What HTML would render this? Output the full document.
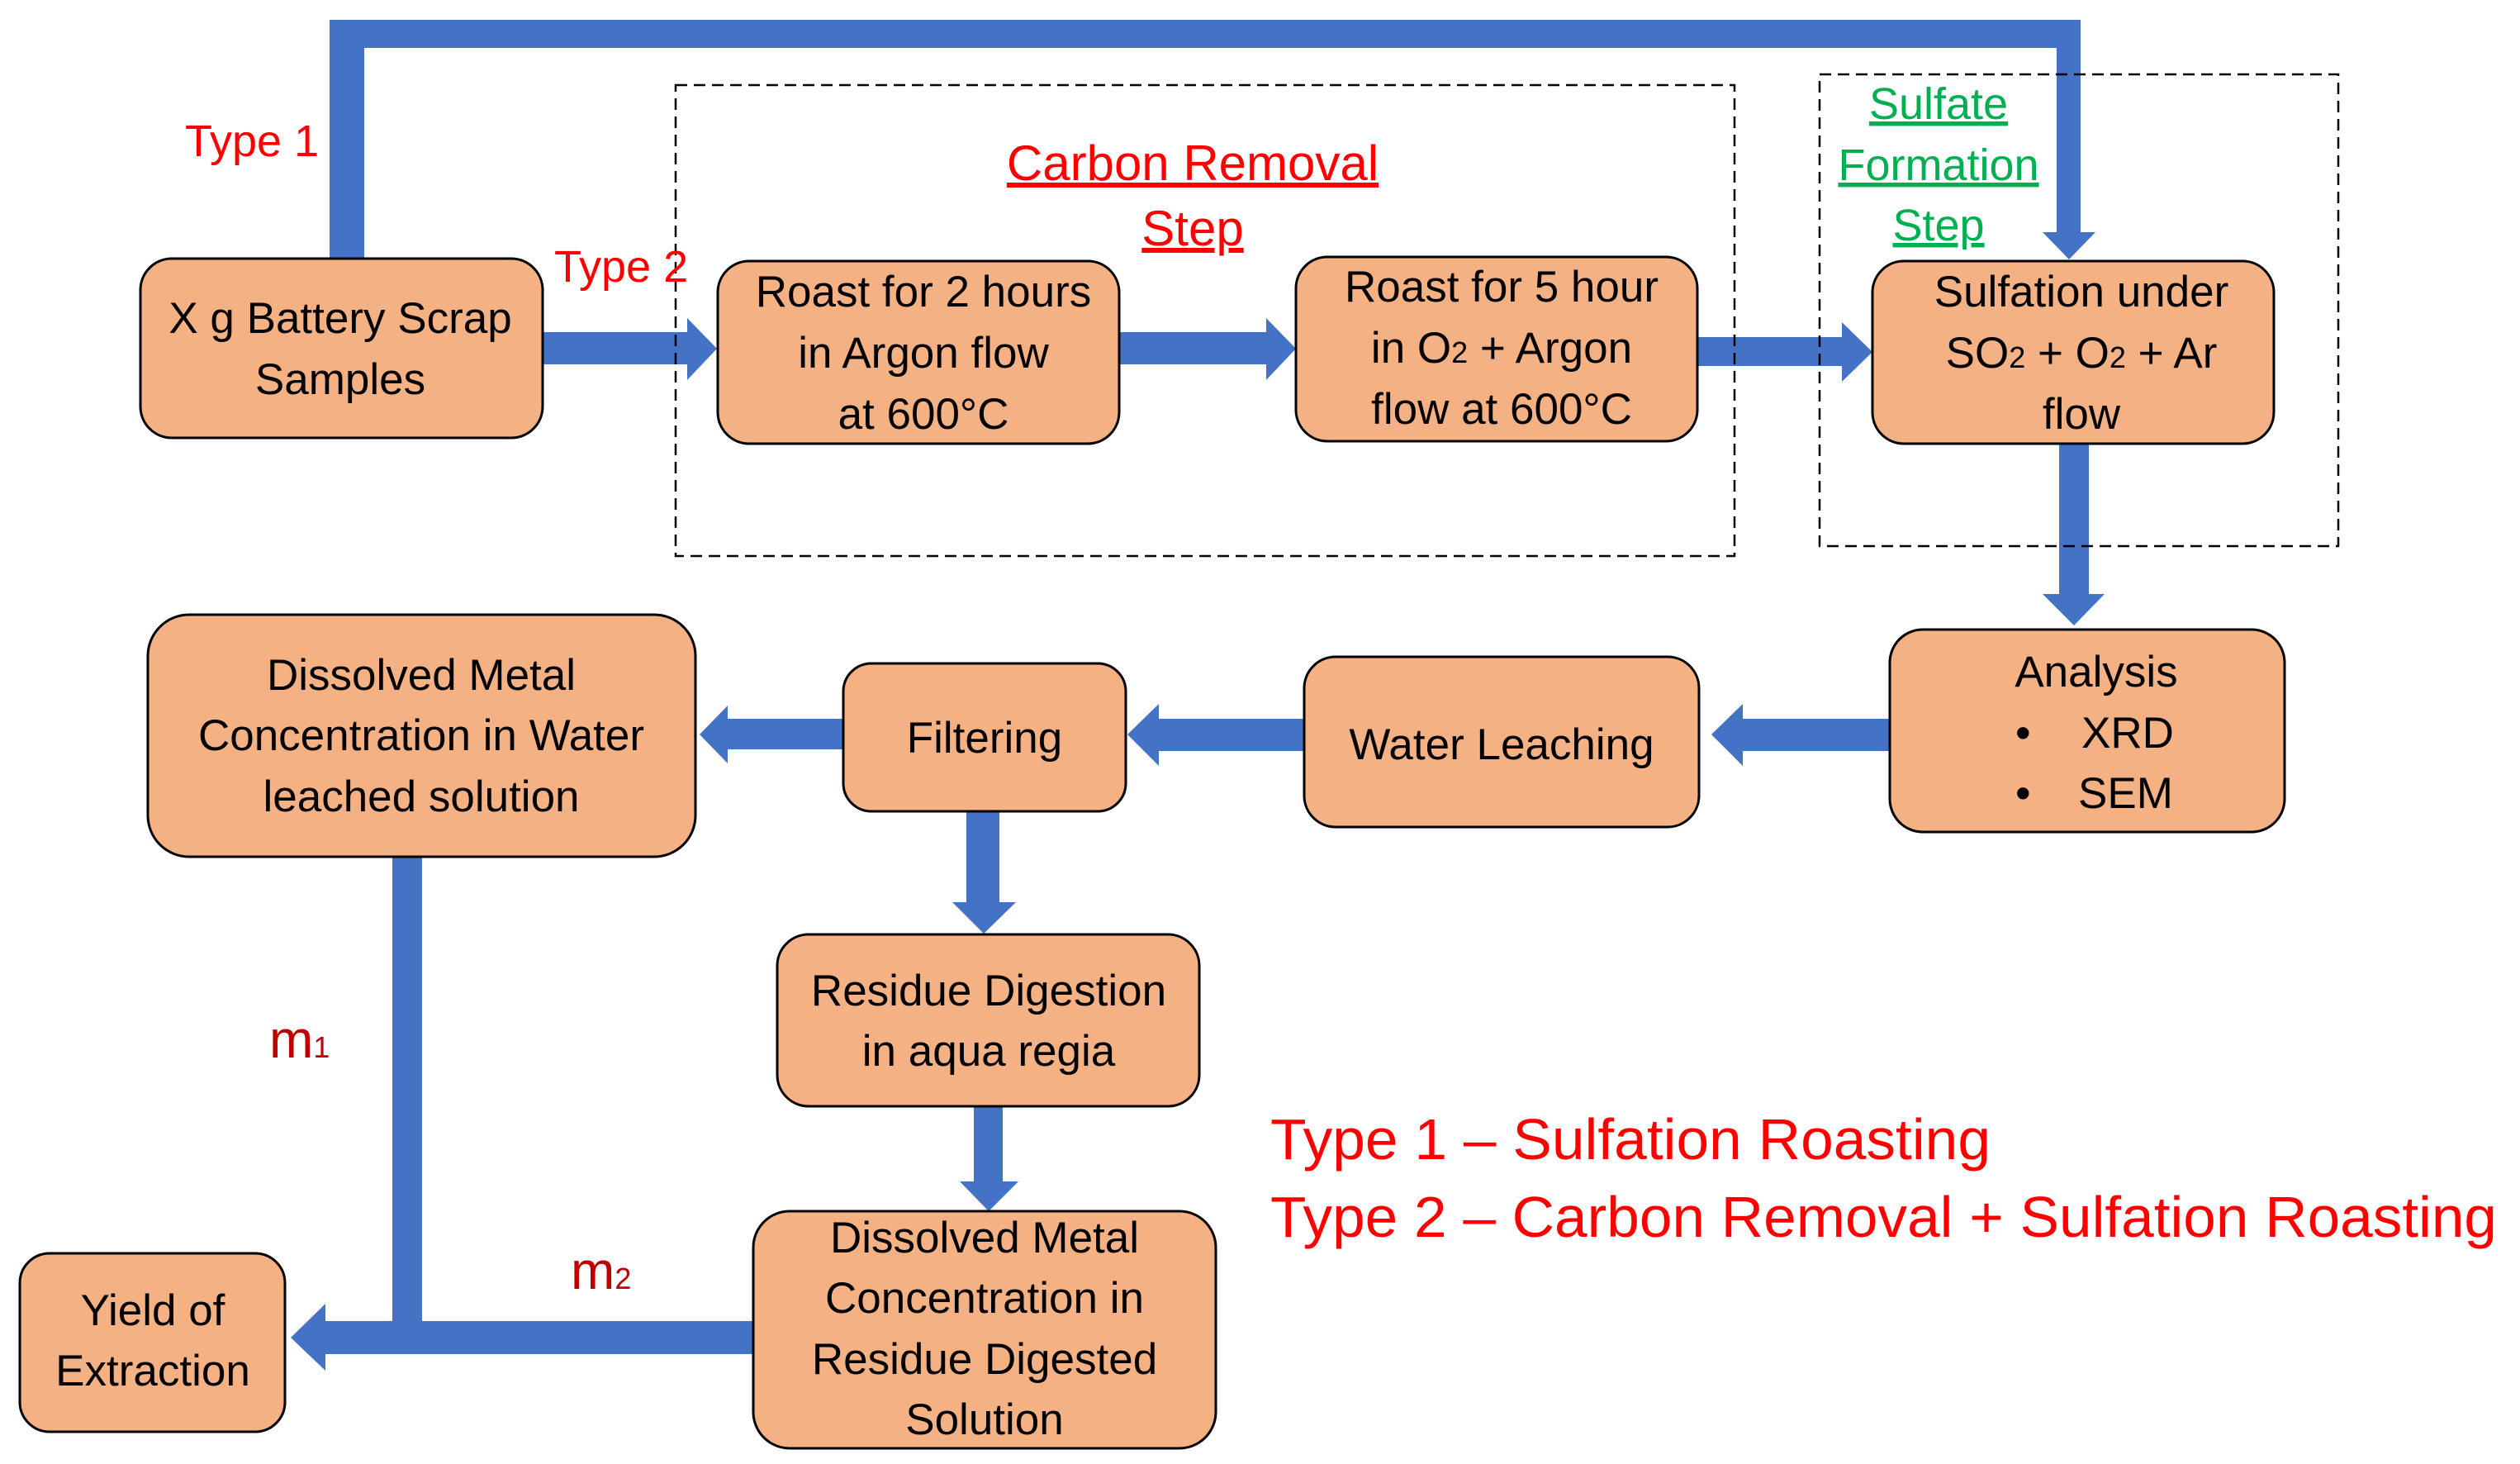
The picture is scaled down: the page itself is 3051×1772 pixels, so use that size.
<!DOCTYPE html>
<html><head><meta charset="utf-8"><style>
html,body{margin:0;padding:0;background:#fff;}
svg{display:block;}
text{font-family:"Liberation Sans",sans-serif;}
</style></head><body>
<svg width="3051" height="1772" viewBox="0 0 3051 1772" xmlns="http://www.w3.org/2000/svg">
<g fill="#4472C4">
  <rect x="399" y="24" width="42" height="290"/>
  <rect x="399" y="24" width="2120" height="34"/>
  <rect x="2490" y="24" width="29" height="258"/>
  <polygon points="2473,281 2537,281 2505,314"/>
  <rect x="657" y="402" width="177" height="39"/>
  <polygon points="832,385 868,422 832,460"/>
  <rect x="1355" y="402" width="180" height="39"/>
  <polygon points="1533,385 1569,422 1533,460"/>
  <rect x="2055" y="408" width="177" height="35"/>
  <polygon points="2230,390 2267,426 2230,462"/>
  <rect x="2493" y="537" width="36" height="184"/>
  <polygon points="2473,719 2548,719 2511,757"/>
  <rect x="2108" y="870" width="182" height="39"/>
  <polygon points="2110,852 2072,889 2110,927"/>
  <rect x="1400" y="870" width="181" height="39"/>
  <polygon points="1403,852 1365,889 1403,927"/>
  <rect x="879" y="870" width="144" height="37"/>
  <polygon points="881,854 847,889 881,924"/>
  <rect x="1170" y="982" width="40" height="112"/>
  <polygon points="1153,1092 1230,1092 1191,1130"/>
  <rect x="1179" y="1339" width="35" height="93"/>
  <polygon points="1162,1430 1233,1430 1197,1466"/>
  <rect x="475" y="1037" width="36" height="602"/>
  <rect x="392" y="1599" width="522" height="40"/>
  <polygon points="394,1578 352,1619 394,1659"/>
</g>
<rect x="818" y="103" width="1282" height="570" fill="none" stroke="#000" stroke-width="2.5" stroke-dasharray="14,8"/>
<rect x="2203" y="90" width="628" height="571" fill="none" stroke="#000" stroke-width="2.5" stroke-dasharray="14,8"/>
<g fill="#F4B183" stroke="#000" stroke-width="3">
  <rect x="170" y="313" width="487" height="217" rx="38"/>
  <rect x="869" y="316" width="486" height="221" rx="38"/>
  <rect x="1569" y="311" width="486" height="223" rx="38"/>
  <rect x="2267" y="316" width="486" height="221" rx="38"/>
  <rect x="2288" y="762" width="478" height="245" rx="40"/>
  <rect x="1579" y="795" width="478" height="206" rx="38"/>
  <rect x="1021" y="803" width="342" height="179" rx="34"/>
  <rect x="179" y="744" width="663" height="293" rx="50"/>
  <rect x="941" y="1131" width="511" height="208" rx="38"/>
  <rect x="912" y="1466" width="560" height="287" rx="44"/>
  <rect x="24" y="1517" width="321" height="216" rx="36"/>
</g>
<g font-size="53" fill="#000" text-anchor="middle">
  <text x="412" y="403">X g Battery Scrap</text>
  <text x="412" y="477">Samples</text>
  <text x="1118" y="371">Roast for 2 hours</text>
  <text x="1118" y="445">in Argon flow</text>
  <text x="1118" y="519">at 600°C</text>
  <text x="1818" y="365">Roast for 5 hour</text>
  <text x="1818" y="439">in O<tspan font-size="36">2</tspan> + Argon</text>
  <text x="1818" y="513">flow at 600°C</text>
  <text x="2520" y="371">Sulfation under</text>
  <text x="2520" y="445">SO<tspan font-size="36">2</tspan> + O<tspan font-size="36">2</tspan> + Ar</text>
  <text x="2520" y="519">flow</text>
  <text x="2538" y="831">Analysis</text>
  <text x="1818" y="919">Water Leaching</text>
  <text x="1192" y="911">Filtering</text>
  <text x="510" y="835">Dissolved Metal</text>
  <text x="510" y="908">Concentration in Water</text>
  <text x="510" y="982">leached solution</text>
  <text x="1197" y="1217">Residue Digestion</text>
  <text x="1197" y="1290">in aqua regia</text>
  <text x="1192" y="1516">Dissolved Metal</text>
  <text x="1192" y="1589">Concentration in</text>
  <text x="1192" y="1663">Residue Digested</text>
  <text x="1192" y="1736">Solution</text>
  <text x="185" y="1604">Yield of</text>
  <text x="185" y="1677">Extraction</text>
</g>
<g font-size="53" fill="#000">
  <text x="2440" y="905">•</text>
  <text x="2520" y="905">XRD</text>
  <text x="2440" y="978">•</text>
  <text x="2516" y="978">SEM</text>
</g>
<g fill="#FF0000" font-size="54">
  <text x="224" y="189">Type 1</text>
  <text x="671" y="341">Type 2</text>
  <text x="1444" y="218" font-size="60" text-anchor="middle" text-decoration="underline">Carbon Removal</text>
  <text x="1444" y="297" font-size="60" text-anchor="middle" text-decoration="underline">Step</text>
  <text x="1538" y="1403" font-size="70" textLength="872" lengthAdjust="spacingAndGlyphs">Type 1 – Sulfation Roasting</text>
  <text x="1538" y="1497" font-size="70" textLength="1485" lengthAdjust="spacingAndGlyphs">Type 2 – Carbon Removal + Sulfation Roasting</text>
</g>
<g fill="#00B050" font-size="54" text-anchor="middle" text-decoration="underline">
  <text x="2359" y="144" dx="-12">Sulfate</text>
  <text x="2359" y="218" dx="-12">Formation</text>
  <text x="2359" y="291" dx="-12">Step</text>
</g>
<g fill="#C00000">
  <text x="326" y="1280" font-size="64">m<tspan font-size="36">1</tspan></text>
  <text x="691" y="1560" font-size="64">m<tspan font-size="36">2</tspan></text>
</g>
</svg>
</body></html>
